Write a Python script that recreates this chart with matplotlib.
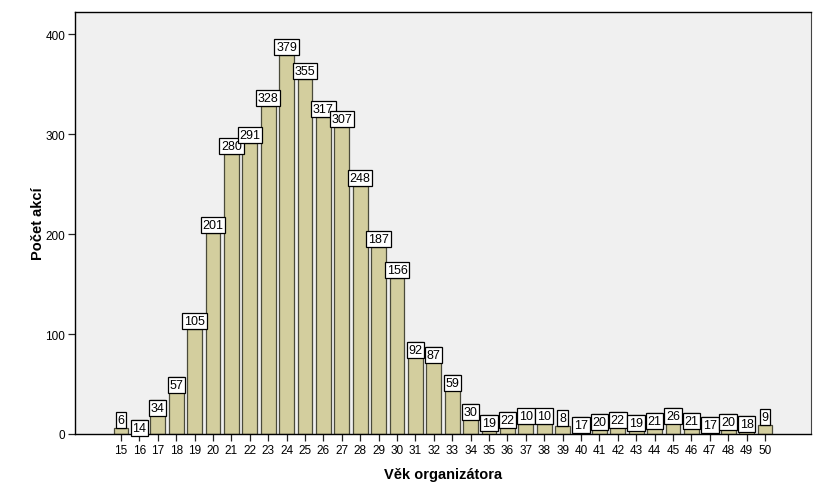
import matplotlib
matplotlib.use("Agg")
import matplotlib.pyplot as plt

plt.rcParams['font.family'] = ['Liberation Sans', 'DejaVu Sans']

ages = list(range(15, 51))
counts = [6, 14, 34, 57, 105, 201, 280, 291, 328, 379, 355, 317, 307, 248, 187, 156,
          92, 87, 59, 30, 19, 22, 10, 10, 8, 17, 20, 22, 19, 21, 26, 21, 17, 20, 18, 9]
x_label = "Věk organizátora"
y_label = "Počet akcí"
y_ticks = [0, 100, 200, 300, 400]

fig = plt.figure(figsize=(8.29, 5.02), dpi=100)
fig.patch.set_facecolor('white')
ax = fig.add_axes([75/829, 1-435/502, (811-75)/829, (435-13)/502])
ax.set_facecolor('#F0F0F0')

ax.bar(ages, counts, width=0.8, color='#D3CE9E', edgecolor='#4a4a3a', linewidth=0.9, zorder=2)

for a, c in zip(ages, counts):
    inside = 12 <= c < 100
    if inside:
        ax.annotate(str(c), (a, c), xytext=(0, -1.6), textcoords='offset points',
                    ha='center', va='top', fontsize=9, zorder=4,
                    bbox=dict(boxstyle='square,pad=0.14', fc='white', ec='black', lw=0.9))
    else:
        ax.annotate(str(c), (a, c), xytext=(0, 1.6), textcoords='offset points',
                    ha='center', va='bottom', fontsize=9, zorder=4,
                    bbox=dict(boxstyle='square,pad=0.14', fc='white', ec='black', lw=0.9))

ax.set_xlim(12.5, 52.5)
ax.set_ylim(0, 422)
ax.set_xticks(ages)
ax.set_xticklabels([str(a) for a in ages], fontsize=8.5)
ax.set_yticks(y_ticks)
ax.set_yticklabels([str(t) for t in y_ticks], fontsize=8.5)
ax.tick_params(axis='both', direction='out', length=5, width=0.9, color='#222222', pad=2)

for s in ['left', 'bottom', 'top']:
    ax.spines[s].set_color('black')
    ax.spines[s].set_linewidth(1.0)
ax.spines['right'].set_color('#444444')
ax.spines['right'].set_linewidth(0.8)

ax.set_xlabel(x_label, fontsize=10.5, fontweight='bold', labelpad=8)
ax.set_ylabel(y_label, fontsize=10.5, fontweight='bold', labelpad=0)

fig.savefig('out.png', dpi=100, facecolor='white')
